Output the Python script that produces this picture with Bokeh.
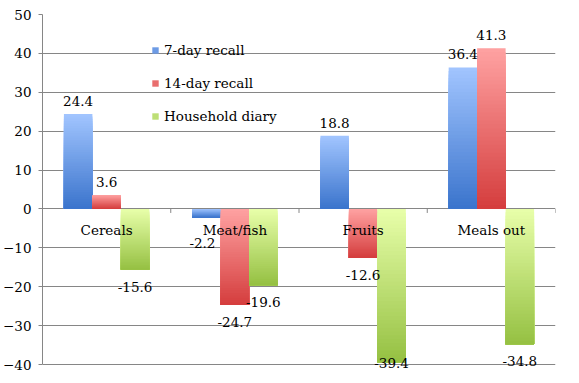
import numpy as np
from bokeh.plotting import figure
from bokeh.models import (ColumnDataSource, LabelSet, Legend, LegendItem,
                          Range1d, FixedTicker)
from bokeh.core.properties import value
from bokeh.embed import file_html
from bokeh.resources import INLINE

# ---------------- data ----------------
categories = ["Cereals", "Meat/fish", "Fruits", "Meals out"]
series_names = ["7-day recall", "14-day recall", "Household diary"]
recall_7 = [24.4, -2.2, 18.8, 36.4]
recall_14 = [3.6, -24.7, -12.6, 41.3]
household_diary = [-15.6, -19.6, -39.4, -34.8]
y_ticks = [-40, -30, -20, -10, 0, 10, 20, 30, 40, 50]
series_values = [recall_7, recall_14, household_diary]

# ---------------- style ----------------
FONT_NAME = "DejaVu Serif"
FONT = value(FONT_NAME)
FS = "13.5px"
GRID = "#868686"
LIGHT = ["#a2c5ff", "#ffa2a2", "#e8ffaa"]
DARK = ["#3a74cc", "#d43d3d", "#95c042"]
BAR_W = 0.222
N_SLICES = 40
Y_MIN, Y_MAX = -40, 50
PX_PER_UNIT = 3.889
EXTRA_BOTTOM_PX = 11
TICK_PX = 4
# pixel nudges (dx, dy-up) for labels that Excel moved to avoid overlaps
LABEL_NUDGE = {(1, 0): (-4, -8), (2, 2): (0, 16)}


def hex2rgb(h):
    h = h.lstrip("#")
    return np.array([int(h[i:i + 2], 16) for i in (0, 2, 4)], dtype=float)


def lerp(c1, c2, t):
    a, b = hex2rgb(c1), hex2rgb(c2)
    c = a + (b - a) * t
    return "#%02x%02x%02x" % tuple(int(round(v)) for v in c)


y_lo = Y_MIN - EXTRA_BOTTOM_PX / PX_PER_UNIT
p = figure(width=563, height=375, output_backend="svg", toolbar_location=None,
           x_range=Range1d(0, len(categories)), y_range=Range1d(y_lo, Y_MAX),
           x_axis_location=None,
           min_border_left=32, min_border_right=8, min_border_top=14,
           min_border_bottom=0)
p.outline_line_color = None
p.background_fill_color = "white"
p.border_fill_color = "white"
p.xgrid.visible = False
p.ygrid.ticker = FixedTicker(ticks=y_ticks)
p.ygrid.grid_line_color = GRID
p.ygrid.grid_line_width = 1

ax = p.yaxis[0]
ax.ticker = FixedTicker(ticks=y_ticks)
ax.bounds = (Y_MIN, Y_MAX)
ax.axis_line_color = GRID
ax.major_tick_line_color = GRID
ax.major_tick_out = TICK_PX
ax.major_tick_in = 0
ax.minor_tick_line_color = None
ax.major_label_standoff = 7
ax.major_label_text_font = FONT_NAME
ax.major_label_text_font_size = FS
ax.major_label_text_color = "black"

# category boundary ticks on the zero line
tick_len = TICK_PX / PX_PER_UNIT
bx = list(range(len(categories) + 1))
p.segment(x0=bx, y0=[0] * len(bx), x1=bx, y1=[-tick_len] * len(bx),
          line_color=GRID, line_width=1)

legend_items = []
pos_lab = dict(x=[], y=[], text=[], xo=[], yo=[])
neg_lab = dict(x=[], y=[], text=[], xo=[], yo=[])
for j, vals in enumerate(series_values):
    left, right, top, bottom, colors = [], [], [], [], []
    for i, v in enumerate(vals):
        xc = i + 0.5 + (j - 1) * BAR_W
        hi, lo = max(v, 0), min(v, 0)
        h = hi - lo
        for k in range(N_SLICES):
            left.append(xc - BAR_W / 2)
            right.append(xc + BAR_W / 2)
            top.append(hi - h * k / N_SLICES)
            bottom.append(lo)
            colors.append(lerp(LIGHT[j], DARK[j], (k + 0.5) / N_SLICES))
        dx, dy = LABEL_NUDGE.get((i, j), (0, 0))
        if v >= 0:
            d = pos_lab
            d["yo"].append(8 + dy)
        else:
            d = neg_lab
            d["yo"].append(-12 + dy)
        d["y"].append(v)
        d["x"].append(xc)
        d["xo"].append(dx)
        d["text"].append(f"{v:.1f}")
    src = ColumnDataSource(dict(left=left, right=right, top=top,
                                bottom=bottom, color=colors))
    r = p.quad(left="left", right="right", top="top", bottom="bottom",
               fill_color="color", line_color=None, source=src)
    legend_items.append(LegendItem(label=series_names[j], renderers=[r],
                                   index=N_SLICES // 2))

for d, base in ((pos_lab, "bottom"), (neg_lab, "top")):
    ls = LabelSet(x="x", y="y", text="text", x_offset="xo", y_offset="yo",
                  source=ColumnDataSource(d), text_align="center",
                  text_baseline=base, text_font=FONT, text_font_size=FS,
                  text_color="black")
    p.add_layout(ls)

cat_src = ColumnDataSource(dict(x=[i + 0.5 for i in range(len(categories))],
                                y=[0] * len(categories), text=categories))
p.add_layout(LabelSet(x="x", y="y", text="text", y_offset=-21,
                      source=cat_src, text_align="center",
                      text_baseline="middle", text_font=FONT,
                      text_font_size=FS, text_color="black"))

legend = Legend(items=legend_items, location=(109, 249),
                glyph_width=8, glyph_height=8, label_height=20,
                spacing=13, label_standoff=5, padding=0, margin=0,
                border_line_color=None, background_fill_alpha=0,
                label_text_font=FONT_NAME, label_text_font_size=FS,
                label_text_color="black")
p.add_layout(legend)

open("out.html", "w").write(file_html(p, INLINE))
